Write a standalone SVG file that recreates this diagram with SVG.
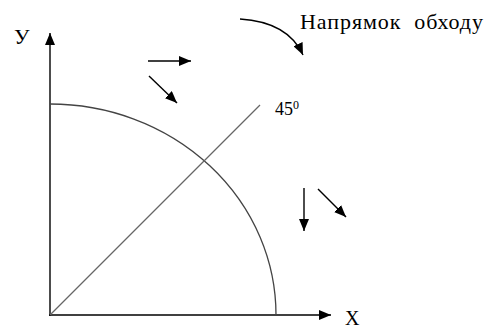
<svg xmlns="http://www.w3.org/2000/svg" width="486" height="331" viewBox="0 0 486 331">
  <style>
    .arr { stroke: #000; stroke-width: 1.4; fill: none; marker-end: url(#head); }
    .thin { stroke: #444; stroke-width: 1.3; fill: none; }
    .diag { stroke: #666; stroke-width: 1.3; fill: none; }
    .t { font-family: "Liberation Serif", "Times New Roman", serif; fill: #000; }
  </style>
  <defs>
    <marker id="head" markerUnits="userSpaceOnUse" markerWidth="12" markerHeight="10" refX="12" refY="5" orient="auto">
      <path d="M0,0 L12,5 L0,10 z" fill="#000"/>
    </marker>
  </defs>
  <rect width="486" height="331" fill="#fff"/>
  <g id="connectors">
    <g id="axis-y"><path class="arr" d="M50,316 L50,33"/></g>
    <g id="axis-x"><path class="arr" d="M49,315 L331,315"/></g>
    <g id="arc"><path class="thin" d="M50,104 A226,211 0 0 1 276,315"/></g>
    <g id="diagonal"><path class="diag" d="M50,315 L260,105"/></g>
    <g id="arrow-curve"><path class="arr" d="M240,19 Q288,22 303,55"/></g>
    <g id="arrow-right"><path class="arr" d="M148,61 L191,61"/></g>
    <g id="arrow-diag1"><path class="arr" d="M149,76 L177,103"/></g>
    <g id="arrow-down"><path class="arr" d="M304,188 L304,231"/></g>
    <g id="arrow-diag2"><path class="arr" d="M318,189 L346,217"/></g>
  </g>
  <g id="labels">
    <text id="label-y" class="t" x="14" y="44" font-size="22">У</text>
    <text id="label-x" class="t" x="345" y="325" font-size="20">X</text>
    <text id="label-45" class="t" x="275" y="115" font-size="18">45<tspan font-size="12" dy="-6">0</tspan></text>
    <text id="label-dir" class="t" x="300" y="29" font-size="22" xml:space="preserve" textLength="183" lengthAdjust="spacing">Напрямок  обходу</text>
  </g>
</svg>
